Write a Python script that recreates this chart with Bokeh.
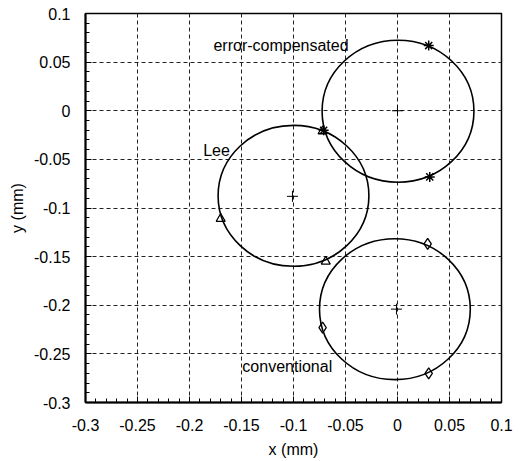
from bokeh.plotting import figure
from bokeh.models import FixedTicker, CustomJSTickFormatter, ColumnDataSource, Range1d
from bokeh.core.properties import value
from bokeh.embed import file_html
from bokeh.resources import INLINE

# circles (center x, center y, radius) in mm
circle_names = ["error-compensated", "Lee", "conventional"]
circle_cx = [0.0005, -0.100, -0.0025]
circle_cy = [-0.0005, -0.0875, -0.204]
circle_r = [0.073, 0.0725, 0.0725]

# plotted centre markers (+)
center_x = [0.0, -0.101, -0.001]
center_y = [0.0, -0.088, -0.204]

# measured points
star_x = [0.030, 0.031, -0.071]
star_y = [0.067, -0.068, -0.020]
tri_x = [-0.072, -0.170, -0.069]
tri_y = [-0.021, -0.111, -0.155]
dia_x = [0.029, -0.072, 0.030]
dia_y = [-0.137, -0.223, -0.270]

# annotation text positions
label_text = ["error-compensated", "Lee", "conventional"]
label_x = [-0.112, -0.174, -0.106]
label_y = [0.067, -0.041, -0.263]

tick_values = [-0.3, -0.25, -0.2, -0.15, -0.1, -0.05, 0.0, 0.05, 0.1]
tick_labels = ["-0.3", "-0.25", "-0.2", "-0.15", "-0.1", "-0.05", "0", "0.05", "0.1"]
minor_values = [round(-0.3 + 0.01 * i, 2) for i in range(41)]

FONT = "Liberation Sans"

p = figure(width=520, height=461, output_backend="svg", toolbar_location=None,
           x_range=Range1d(-0.3, 0.1), y_range=Range1d(-0.3, 0.1),
           min_border_left=85, min_border_right=19, min_border_top=13, min_border_bottom=59,
           background_fill_color="white", border_fill_color="white")

p.outline_line_color = "black"
p.outline_line_width = 1.5

fmt = CustomJSTickFormatter(args=dict(vals=tick_values, labs=tick_labels), code="""
let best = 0; let bd = 1e9;
for (let i = 0; i < vals.length; i++) { const d = Math.abs(vals[i] - tick); if (d < bd) { bd = d; best = i; } }
return labs[best];
""")

for ax in (p.xaxis[0], p.yaxis[0]):
    ax.ticker = FixedTicker(ticks=tick_values, minor_ticks=minor_values)
    ax.formatter = fmt
    ax.major_tick_in = 6
    ax.major_tick_out = 0
    ax.minor_tick_in = 4
    ax.minor_tick_out = 0
    ax.axis_line_width = 2
    ax.axis_line_color = "black"
    ax.major_tick_line_color = "black"
    ax.minor_tick_line_color = "black"
    ax.major_label_text_font = FONT
    ax.major_label_text_font_size = "16px"
    ax.major_label_text_color = "black"
    ax.axis_label_text_font = FONT
    ax.axis_label_text_font_size = "16px"
    ax.axis_label_text_font_style = "normal"
    ax.axis_label_text_color = "black"

p.xaxis.axis_label = "x (mm)"
p.yaxis.axis_label = "y (mm)"
p.xaxis.major_label_standoff = 16
p.xaxis.axis_label_standoff = 7
p.yaxis.major_label_standoff = 15
p.yaxis.axis_label_standoff = 5

for g in (p.xgrid[0], p.ygrid[0]):
    g.ticker = FixedTicker(ticks=tick_values)
    g.grid_line_color = "#222222"
    g.grid_line_dash = "4 3"
    g.grid_line_width = 1

circ = ColumnDataSource(dict(x=circle_cx, y=circle_cy, w=[2 * r for r in circle_r], h=[2 * r for r in circle_r]))
p.ellipse(x="x", y="y", width="w", height="h", source=circ, fill_color=None,
          line_color="black", line_width=1.6)

p.scatter(center_x, center_y, marker="cross", size=11, line_color="black", line_width=1)
p.scatter(star_x, star_y, marker="asterisk", size=10, line_color="black", line_width=1.5)
p.scatter(tri_x, tri_y, marker="triangle", size=9, fill_color=None, line_color="black", line_width=1.3)
p.scatter(dia_x, dia_y, marker="diamond", size=11, fill_color=None, line_color="black", line_width=1.3)

p.text(x=label_x, y=label_y, text=label_text, text_align="center", text_baseline="middle",
       text_font=value(FONT), text_font_size="16px", text_color="black")

open("out.html", "w").write(file_html(p, INLINE))
